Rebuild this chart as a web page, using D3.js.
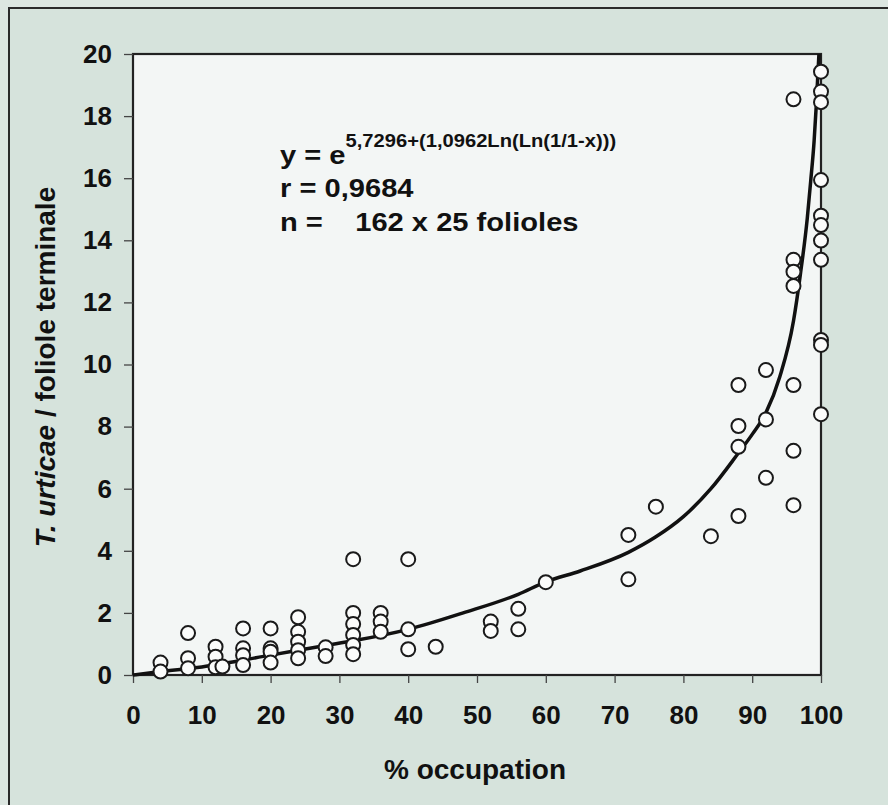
<!DOCTYPE html>
<head>
  <meta charset="utf-8">
  <script src="https://d3js.org/d3.v7.min.js"></script>
  <style>
    body { margin:0; background:#dce6e1; }
    text { font-family: Arial, "Liberation Sans", Helvetica, sans-serif; font-weight:bold; fill:#111; }
  </style>
</head>

<body>

  <script>

    // % occupation values (x) and mites per terminal leaflet (y)
    var occupX = [4, 4,
                  8, 8, 8,
                  12, 12, 12, 13,
                  16, 16, 16, 16,
                  20, 20, 20, 20,
                  24, 24, 24, 24, 24,
                  28, 28,
                  32, 32, 32, 32, 32, 32,
                  36, 36, 36,
                  40, 40, 40,
                  44,
                  52, 52,
                  56, 56,
                  60,
                  72, 72,
                  76,
                  84,
                  88, 88, 88, 88,
                  92, 92, 92,
                  96, 96, 96, 96, 96, 96, 96,
                  100, 100, 100, 100, 100, 100, 100, 100, 100, 100, 100];
    var mites  = [0.40, 0.11,
                  1.35, 0.54, 0.22,
                  0.91, 0.59, 0.25, 0.27,
                  1.50, 0.86, 0.64, 0.32,
                  1.50, 0.86, 0.75, 0.40,
                  1.86, 1.39, 1.07, 0.80, 0.54,
                  0.89, 0.61,
                  3.73, 2.00, 1.64, 1.29, 0.97, 0.67,
                  2.00, 1.72, 1.39,
                  3.73, 1.47, 0.83,
                  0.91,
                  1.72, 1.42,
                  2.13, 1.47,
                  2.99,
                  4.51, 3.08,
                  5.42,
                  4.47,
                  9.34, 8.02, 7.35, 5.12,
                  9.82, 8.23, 6.35,
                  18.54, 13.37, 12.99, 12.53, 9.34, 7.22, 5.47,
                  19.43, 18.79, 18.45, 15.94, 14.79, 14.49, 13.99, 13.37, 10.79, 10.63, 8.40];

    // fitted curve
    var fitX = [0, 4, 10, 20, 28, 32, 40, 48, 56, 60, 65, 72, 76, 80, 84, 88, 90, 92, 94, 96, 97, 98, 98.5, 99, 99.3, 99.7];
    var fitY = [0, 0.11, 0.26, 0.64, 0.95, 1.1, 1.47, 2.0, 2.6, 3.0, 3.35, 3.95, 4.45, 5.1, 6.0, 7.15, 7.75, 8.45, 9.6, 11.4, 12.9, 14.7, 15.9, 17.2, 18.3, 20];

    var xTicks = [0, 10, 20, 30, 40, 50, 60, 70, 80, 90, 100];
    var yTicks = [0, 2, 4, 6, 8, 10, 12, 14, 16, 18, 20];

    var width = 888, height = 805;
    var margin = {top: 54, left: 133, right: 67, bottom: 130};

    var svg = d3.select("body").append("svg")
      .attr("width", width)
      .attr("height", height)

    // outer frame
    svg.append("rect")
      .attr("x", 9).attr("y", 8)
      .attr("width", 920).attr("height", 900)
      .attr("fill", "#d6e3dc")
      .attr("stroke", "#2a2a2a")
      .attr("stroke-width", 2)

    var x = d3.scaleLinear().domain([0, 100]).range([margin.left, width - margin.right])
    var y = d3.scaleLinear().domain([0, 20]).range([height - margin.bottom, margin.top])

    // plot area
    svg.append("rect")
      .attr("x", x(0)).attr("y", y(20))
      .attr("width", x(100) - x(0)).attr("height", y(0) - y(20))
      .attr("fill", "#f3f6f5")
      .attr("stroke", "#222")
      .attr("stroke-width", 2.2)

    var xAxis = d3.axisBottom(x).tickValues(xTicks).tickSize(8).tickPadding(23).tickFormat(d3.format("d"));
    var yAxis = d3.axisLeft(y).tickValues(yTicks).tickSize(9).tickPadding(12).tickFormat(d3.format("d"));

    var gx = svg.append("g")
      .attr("transform", "translate(0," + y(0) + ")")
      .call(xAxis)
    var gy = svg.append("g")
      .attr("transform", "translate(" + x(0) + ",0)")
      .call(yAxis)

    ;[gx, gy].forEach(function(g){
      g.select(".domain").remove()
      g.selectAll(".tick line").attr("stroke", "#444").attr("stroke-width", 1.3)
      g.selectAll(".tick text").attr("font-size", 26).attr("fill", "#111")
        .attr("font-family", "Arial, 'Liberation Sans', sans-serif").attr("font-weight", "bold")
    })
    gx.selectAll(".tick text").attr("dy", "0.71em")

    // fitted curve
    var line = d3.line()
      .x(function(d){ return x(d[0]) })
      .y(function(d){ return y(d[1]) })
      .curve(d3.curveMonotoneX)

    svg.append("path")
      .datum(d3.zip(fitX, fitY))
      .attr("d", line)
      .attr("fill", "none")
      .attr("stroke", "#111")
      .attr("stroke-width", 3.5)

    // observations
    svg.append("g").selectAll("circle")
      .data(d3.zip(occupX, mites))
      .enter()
      .append("circle")
      .attr("cx", function(d){ return x(d[0]) })
      .attr("cy", function(d){ return y(d[1]) })
      .attr("r", 7)
      .attr("fill", "#fbfcfb")
      .attr("stroke", "#1a1a1a")
      .attr("stroke-width", 2)

    // equation block (text a little stretched sideways, as in the scan)
    var note = svg.append("g").attr("transform", "translate(280,0) scale(1.12,1)")
    var eq = note.append("text").attr("x", 0).attr("y", 164).attr("font-size", 26)
    eq.append("tspan").text("y = e")
    eq.append("tspan").attr("font-size", 18).attr("dy", -17).text("5,7296+(1,0962Ln(Ln(1/1-x)))")

    note.append("text").attr("x", 0).attr("y", 197).attr("font-size", 26).text("r = 0,9684")
    note.append("text").attr("x", 0).attr("y", 231).attr("font-size", 26)
      .style("white-space", "pre")
      .text("n =    162 x 25 folioles")

    // axis titles
    svg.append("text")
      .attr("x", 475).attr("y", 779)
      .attr("text-anchor", "middle")
      .attr("font-size", 28)
      .text("% occupation")

    var yt = svg.append("text")
      .attr("transform", "translate(55," + 367 + ") rotate(-90)")
      .attr("text-anchor", "middle")
      .attr("font-size", 28)
    yt.append("tspan").attr("font-style", "italic").text("T. urticae")
    yt.append("tspan").text(" / foliole terminale")

  </script>
</body>
